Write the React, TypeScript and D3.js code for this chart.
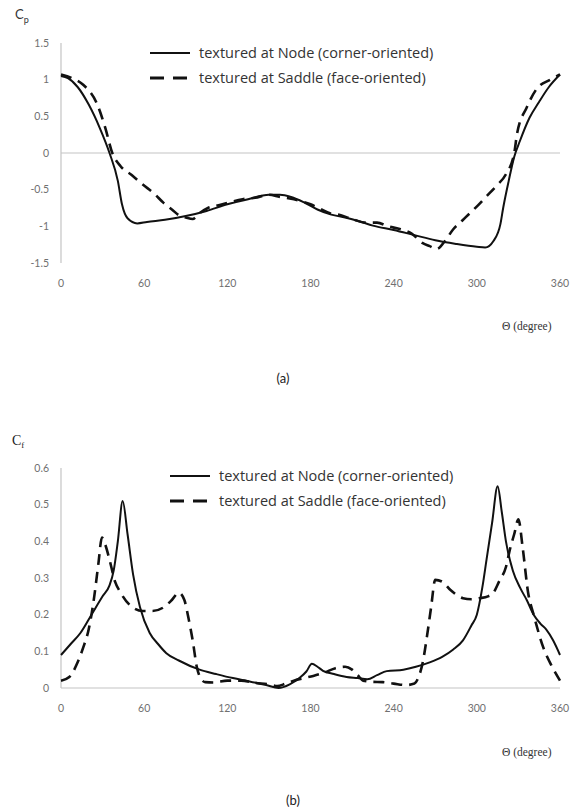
import React from "react";
import * as d3 from "d3";

// x ticks shared by both panels
const thetaTicks = [0, 60, 120, 180, 240, 300, 360];

// (a) pressure coefficient Cp
const cpTicks = [1.5, 1, 0.5, 0, -0.5, -1, -1.5];
const cpNodeTheta = [0, 5, 12, 20, 28, 35, 41, 44, 48, 55, 62, 75, 90, 105, 120, 135, 150, 158, 166, 175, 185, 195, 205, 215, 225, 240, 255, 270, 285, 300, 306, 312, 317, 319, 323, 327, 331, 338, 345, 352, 360];
const cpNode = [1.05, 1.02, 0.9, 0.66, 0.34, 0.0, -0.38, -0.7, -0.89, -0.96, -0.94, -0.91, -0.86, -0.79, -0.7, -0.63, -0.57, -0.57, -0.6, -0.67, -0.77, -0.84, -0.88, -0.93, -0.99, -1.05, -1.12, -1.19, -1.24, -1.28, -1.29, -1.2, -0.97, -0.75, -0.38, -0.05, 0.16, 0.48, 0.7, 0.9, 1.07];
const cpSaddleTheta = [0, 8, 16, 26, 32, 37, 43, 51, 59, 67, 74, 80, 86, 90, 95, 100, 106, 112, 120, 131, 140, 150, 158, 165, 172, 180, 187, 194, 200, 210, 220, 228, 236, 245, 253, 261, 266, 271, 277, 283, 289, 295, 301, 307, 314, 321, 327, 329, 336, 343, 353, 360];
const cpSaddle = [1.07, 1.02, 0.93, 0.67, 0.34, 0.0, -0.18, -0.3, -0.43, -0.55, -0.68, -0.77, -0.86, -0.88, -0.9, -0.82, -0.75, -0.72, -0.68, -0.63, -0.61, -0.57, -0.6, -0.62, -0.65, -0.7, -0.76, -0.82, -0.84, -0.9, -0.95, -0.95, -1.0, -1.04, -1.1, -1.23, -1.27, -1.31, -1.2, -1.04, -0.93, -0.82, -0.71, -0.59, -0.45, -0.29, 0.0, 0.26, 0.62, 0.87, 1.0, 1.07];

// (b) friction coefficient Cf
const cfTicks = [0.6, 0.5, 0.4, 0.3, 0.2, 0.1, 0];
const cfNodeTheta = [0, 7, 14, 22, 30, 35, 38, 41, 44.5, 48, 52, 57, 64, 70, 76, 85, 100, 112, 124, 136, 148, 157, 165, 172, 177, 181, 185, 189, 197, 206, 214, 221, 228, 235, 247, 256, 266, 275, 283, 290, 296, 300, 304, 307, 311, 315, 318, 321, 326, 331, 336, 341, 346, 350, 355, 360];
const cfNode = [0.09, 0.12, 0.15, 0.2, 0.25, 0.28, 0.32, 0.4, 0.51, 0.42, 0.31, 0.22, 0.15, 0.12, 0.095, 0.075, 0.05, 0.038, 0.027, 0.018, 0.008, 0.0, 0.01, 0.027, 0.045, 0.066, 0.058, 0.047, 0.038, 0.03, 0.027, 0.024, 0.035, 0.046, 0.05, 0.058, 0.07, 0.085, 0.105, 0.13, 0.17, 0.2, 0.275, 0.35, 0.45, 0.55, 0.48, 0.4, 0.32, 0.275, 0.24, 0.2, 0.175, 0.16, 0.13, 0.09];
const cfSaddleTheta = [0, 6, 12, 16, 20, 24, 27, 29.5, 32, 35, 39, 43, 50, 59, 66, 74, 80, 85, 89, 92, 95, 98, 101, 104, 110, 120, 130, 140, 150, 156, 162, 168, 175, 182, 190, 198, 205, 210, 214, 218, 224, 232, 240, 249, 255, 258, 261, 264, 267, 270, 275, 281, 290, 296, 302, 308, 312, 316, 321, 324, 327, 330, 333, 337, 341, 348, 354, 360];
const cfSaddle = [0.02, 0.03, 0.07, 0.11, 0.16, 0.25, 0.34, 0.41, 0.39, 0.35, 0.29, 0.26, 0.225, 0.21, 0.21, 0.22, 0.24, 0.26, 0.24, 0.19, 0.13, 0.057, 0.025, 0.016, 0.015, 0.02, 0.02, 0.014, 0.01, 0.005, 0.012, 0.02, 0.027, 0.033, 0.042, 0.054, 0.058, 0.05, 0.035, 0.02, 0.017, 0.016, 0.012, 0.008, 0.012, 0.03, 0.07, 0.14, 0.22, 0.295, 0.29, 0.267, 0.245, 0.242, 0.245, 0.25, 0.26, 0.29, 0.33, 0.38, 0.42, 0.46, 0.385, 0.26, 0.2, 0.11, 0.06, 0.02];

const legendNode = "textured at Node (corner-oriented)";
const legendSaddle = "textured at Saddle (face-oriented)";

const SANS = "Lato, 'Open Sans', sans-serif";
const LEGEND_FONT = "'Open Sans', Lato, sans-serif";
const SERIF = "'Liberation Serif', 'DejaVu Serif', serif";
const DASH = "11,7";

type Pt = { t: number; v: number };
const zip = (t: number[], v: number[]): Pt[] => t.map((d, i) => ({ t: d, v: v[i] }));

const Panel = ({ top, bottom, yDomain, ticks, node, saddle, legendX, legendY, xLabelY, yLabel, tag, tagX, tagY }: any) => {
  const x = d3.scaleLinear().domain([0, 360]).range([61, 560]);
  const y = d3.scaleLinear().domain(yDomain).range([bottom, top]);
  const line = d3.line<Pt>().x((d) => x(d.t)).y((d) => y(d.v)).curve(d3.curveMonotoneX);
  const zeroY = y(0);
  return (
    <g>
      {yLabel}
      <line x1={61} x2={61} y1={top} y2={bottom} stroke="#c4c4c4" strokeWidth={1.2} />
      <line x1={61} x2={560} y1={zeroY} y2={zeroY} stroke="#c4c4c4" strokeWidth={1.2} />
      {ticks.map((t: number) => (
        <text key={t} x={49} y={y(t)} dy="0.35em" textAnchor="end" fontSize={10.5} fill="#707070" fontFamily={SANS}>
          {String(t)}
        </text>
      ))}
      {thetaTicks.map((t) => (
        <text key={t} x={x(t)} y={bottom + 20} dy="0.35em" textAnchor="middle" fontSize={10.5} fill="#707070" fontFamily={SANS}>
          {t}
        </text>
      ))}
      <path d={line(node) || ""} fill="none" stroke="#111" strokeWidth={2} />
      <path d={line(saddle) || ""} fill="none" stroke="#111" strokeWidth={2.6} strokeDasharray={DASH} />
      <g transform={`translate(${legendX},${legendY})`}>
        <line x1={0} x2={40} y1={0} y2={0} stroke="#111" strokeWidth={2} />
        <text x={49} y={0} dy="0.35em" fontSize={14.5} fill="#333" fontFamily={LEGEND_FONT}>{legendNode}</text>
        <line x1={0} x2={40} y1={25} y2={25} stroke="#111" strokeWidth={3} strokeDasharray="14,9" />
        <text x={49} y={25} dy="0.35em" fontSize={14.5} fill="#333" fontFamily={LEGEND_FONT}>{legendSaddle}</text>
      </g>
      <text x={502} y={xLabelY} dy="0.35em" fontSize={11.5} fill="#333" fontFamily={SERIF}>Θ (degree)</text>
      <text x={tagX} y={tagY} dy="0.35em" textAnchor="middle" fontSize={13} fill="#222" fontFamily={SANS}>{tag}</text>
    </g>
  );
};

export default function App() {
  return (
    <svg width={571} height={811} style={{ position: "absolute", left: 0, top: 0, background: "#fff" }}>
      <Panel
        top={43}
        bottom={263}
        yDomain={[-1.5, 1.5]}
        ticks={cpTicks}
        node={zip(cpNodeTheta, cpNode)}
        saddle={zip(cpSaddleTheta, cpSaddle)}
        legendX={150}
        legendY={53}
        xLabelY={326}
        tag="(a)"
        tagX={283}
        tagY={378}
        yLabel={
          <text x={15} y={19} fontSize={13} fill="#333" fontFamily={SANS}>
            C<tspan fontSize={9} dy={4}>p</tspan>
          </text>
        }
      />
      <Panel
        top={468}
        bottom={688}
        yDomain={[0, 0.6]}
        ticks={cfTicks}
        node={zip(cfNodeTheta, cfNode)}
        saddle={zip(cfSaddleTheta, cfSaddle)}
        legendX={170}
        legendY={476}
        xLabelY={752}
        tag="(b)"
        tagX={293}
        tagY={800}
        yLabel={
          <text x={12} y={445} fontSize={14} fill="#222" fontFamily={SERIF}>
            C<tspan fontSize={9} dy={3}>f</tspan>
          </text>
        }
      />
    </svg>
  );
}
